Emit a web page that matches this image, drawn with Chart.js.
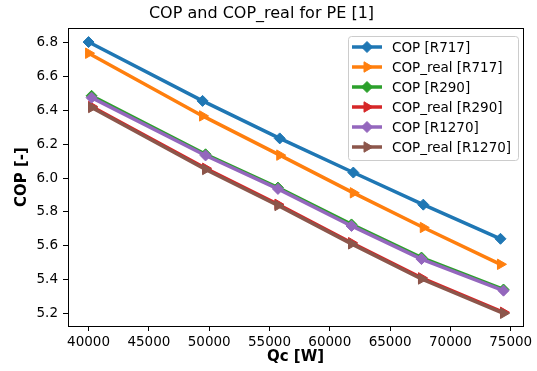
<!DOCTYPE html>
<html>
<head>
<meta charset="utf-8">
<script src="https://cdn.jsdelivr.net/npm/chart.js@4.4.1/dist/chart.umd.min.js"></script>
<style>
  html, body { margin:0; padding:0; background:#fff; }
  #wrap { width:537px; height:371px; }
</style>
</head>
<body>
<div id="wrap"><canvas id="copChart" width="537" height="371"></canvas></div>
<script>
/* ---------- data ---------- */
const qcR717  = [40000, 49450, 55850, 61950, 67750, 74150];
const qcRhc   = [40250, 49700, 55700, 61800, 67600, 74400];   // R290 / R1270

const copR717      = [6.805, 6.457, 6.235, 6.033, 5.843, 5.641];
const copRealR717  = [6.739, 6.368, 6.136, 5.913, 5.708, 5.490];
const copR290      = [6.487, 6.141, 5.944, 5.726, 5.530, 5.341];
const copRealR290  = [6.424, 6.058, 5.845, 5.618, 5.410, 5.206];
const copR1270     = [6.476, 6.134, 5.936, 5.717, 5.521, 5.334];
const copRealR1270 = [6.418, 6.051, 5.838, 5.611, 5.403, 5.200];

const xTicks = [40000, 45000, 50000, 55000, 60000, 65000, 70000, 75000];
const yTicks = [5.2, 5.4, 5.6, 5.8, 6.0, 6.2, 6.4, 6.6, 6.8];

/* ---------- helpers ---------- */
const FONT   = "'DejaVu Sans', 'Liberation Sans', sans-serif";
const COLORS = ['#1f77b4', '#ff7f0e', '#2ca02c', '#d62728', '#9467bd', '#8c564b'];
const pts    = (xs, ys) => ys.map((y, i) => ({ x: xs[i], y }));

const DIAMOND = { pointStyle:'rectRot',  rotation:0,  radius:5.5 };
const TRI_R   = { pointStyle:'triangle', rotation:90, radius:6 };

function ds (label, xs, ys, i, mk) {
  return {
    label, data: pts(xs, ys),
    borderColor: COLORS[i], backgroundColor: COLORS[i],
    borderWidth: 3.5,
    pointStyle: mk.pointStyle, pointRotation: mk.rotation, pointRadius: mk.radius,
    pointBorderWidth: 1, pointBackgroundColor: COLORS[i], pointBorderColor: COLORS[i],
    _mk: mk,
    order: 6 - i                      // later series on top, like matplotlib
  };
}

/* frame (top/right spines) + matplotlib-style legend */
const frameAndLegend = {
  id: 'frameAndLegend',
  afterDraw (chart) {
    const { ctx, chartArea: a } = chart;
    ctx.save();
    ctx.strokeStyle = '#000'; ctx.lineWidth = 1;
    ctx.strokeRect(Math.round(a.left) + 0.5, Math.round(a.top) + 0.5,
                   Math.round(a.right - a.left), Math.round(a.bottom - a.top));

    const bx = 348, by = 36, bw = 170, bh = 124;
    ctx.beginPath();
    ctx.roundRect(bx + 0.5, by + 0.5, bw, bh, 3);
    ctx.fillStyle = 'rgba(255,255,255,0.8)'; ctx.fill();
    ctx.strokeStyle = '#cccccc'; ctx.stroke();

    ctx.font = `13.5px ${FONT}`;
    ctx.textBaseline = 'middle';
    chart.data.datasets.forEach((d, i) => {
      const y = by + 11 + i * 20;
      ctx.strokeStyle = d.borderColor; ctx.lineWidth = 3.5;
      ctx.beginPath(); ctx.moveTo(bx + 4, y); ctx.lineTo(bx + 34, y); ctx.stroke();
      ctx.fillStyle = d.borderColor; ctx.strokeStyle = d.borderColor; ctx.lineWidth = 1;
      Chart.helpers.drawPoint(ctx, {
        pointStyle: d._mk.pointStyle, rotation: d._mk.rotation,
        radius: d._mk.radius, borderWidth: 1
      }, bx + 19, y);
      ctx.fillStyle = '#000';
      ctx.fillText(d.label, bx + 44, y + 1);
    });
    ctx.restore();
  }
};

Chart.defaults.font.family = FONT;
Chart.defaults.color = '#000';

new Chart(document.getElementById('copChart'), {
  type: 'line',
  data: {
    datasets: [
      ds('COP [R717]',        qcR717, copR717,      0, DIAMOND),
      ds('COP_real [R717]',   qcR717, copRealR717,  1, TRI_R),
      ds('COP [R290]',        qcRhc,  copR290,      2, DIAMOND),
      ds('COP_real [R290]',   qcRhc,  copRealR290,  3, TRI_R),
      ds('COP [R1270]',       qcRhc,  copR1270,     4, DIAMOND),
      ds('COP_real [R1270]',  qcRhc,  copRealR1270, 5, TRI_R)
    ]
  },
  options: {
    responsive: false,
    animation: false,
    layout: { padding: { left: 0, right: 14, top: 0, bottom: 0 } },
    plugins: {
      legend: { display: false },
      tooltip: { enabled: false },
      title: {
        display: true, text: 'COP and COP_real for PE [1]',
        font: { size: 16, weight: 'normal' }, padding: { top: 4, bottom: 5 }
      }
    },
    scales: {
      x: {
        type: 'linear', min: 38295, max: 76017,
        afterBuildTicks: s => { s.ticks = xTicks.map(v => ({ value: v })); },
        afterFit: s => { s.height = 45; },
        ticks: { autoSkip: false, maxRotation: 0, padding: 3,
                 font: { size: 13.5 }, callback: v => String(v) },
        grid: { drawOnChartArea: false, tickLength: 5, tickColor: '#000' },
        border: { display: true, color: '#000', width: 1 },
        title: { display: true, text: 'Qc [W]', font: { size: 15, weight: 'bold' },
                 padding: { top: 0, bottom: 5 } }
      },
      y: {
        type: 'linear', min: 5.125, max: 6.887,
        afterBuildTicks: s => { s.ticks = yTicks.map(v => ({ value: v })); },
        afterFit: s => { s.width = 68; },
        ticks: { autoSkip: false, padding: 5, font: { size: 13.5 },
                 callback: v => v.toFixed(1) },
        grid: { drawOnChartArea: false, tickLength: 5, tickColor: '#000' },
        border: { display: true, color: '#000', width: 1 },
        title: { display: true, text: 'COP [-]', font: { size: 15, weight: 'bold' },
                 padding: { top: 13, bottom: 0 } }
      }
    }
  },
  plugins: [frameAndLegend]
});
</script>
</body>
</html>
